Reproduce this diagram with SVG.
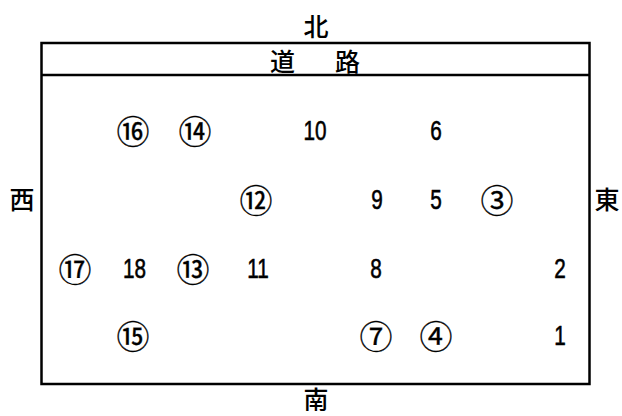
<svg xmlns="http://www.w3.org/2000/svg" width="622" height="416" viewBox="0 0 622 416">
<style>
.cjk{font-family:"Noto Sans CJK JP","Noto Sans CJK SC",sans-serif;font-size:25px;font-weight:500;fill:#000;text-anchor:middle;dominant-baseline:central}
.num{font-family:"Liberation Sans",Arial,sans-serif;font-size:28px;fill:#000;stroke:#000;stroke-width:0.6;text-anchor:middle}
.cir{font-family:"Noto Sans CJK JP","Noto Sans CJK SC",sans-serif;font-size:33px;fill:#000;stroke:#000;stroke-width:0.3;text-anchor:middle;dominant-baseline:central}
.frame{fill:none;stroke:#000;stroke-width:2.5}
</style>
<rect id="frame" class="frame" x="41.5" y="43" width="548" height="341"/>
<line class="frame" x1="41.5" y1="75" x2="589.5" y2="75"/>
<text class="cjk" x="316" y="25">北</text>
<text class="cjk" x="282.5" y="60">道</text>
<text class="cjk" x="347.5" y="60">路</text>
<text class="cjk" x="22" y="198">西</text>
<text class="cjk" x="607" y="198">東</text>
<text class="cjk" x="316" y="398" font-size="24">南</text>
<g id="connectors"/>
<g id="n16"><text class="cir" x="133" y="130">⑯</text></g>
<g id="n14"><text class="cir" x="195" y="130">⑭</text></g>
<g id="n10"><text class="num" transform="translate(315,140) scale(0.74,1)">10</text></g>
<g id="n6"><text class="num" transform="translate(436,140) scale(0.74,1)">6</text></g>
<g id="n12"><text class="cir" x="256" y="199">⑫</text></g>
<g id="n9"><text class="num" transform="translate(377,209) scale(0.74,1)">9</text></g>
<g id="n5"><text class="num" transform="translate(436,209) scale(0.74,1)">5</text></g>
<g id="n3"><text class="cir" x="497" y="199">③</text></g>
<g id="n17"><text class="cir" x="75" y="268">⑰</text></g>
<g id="n18"><text class="num" transform="translate(134.5,278) scale(0.74,1)">18</text></g>
<g id="n13"><text class="cir" x="193" y="268">⑬</text></g>
<g id="n11"><text class="num" transform="translate(258,278) scale(0.74,1)">11</text></g>
<g id="n8"><text class="num" transform="translate(376,278) scale(0.74,1)">8</text></g>
<g id="n2"><text class="num" transform="translate(560,278) scale(0.74,1)">2</text></g>
<g id="n15"><text class="cir" x="133" y="335">⑮</text></g>
<g id="n7"><text class="cir" x="376" y="335">⑦</text></g>
<g id="n4"><text class="cir" x="436" y="335">④</text></g>
<g id="n1"><text class="num" transform="translate(560,345) scale(0.74,1)">1</text></g>
</svg>
